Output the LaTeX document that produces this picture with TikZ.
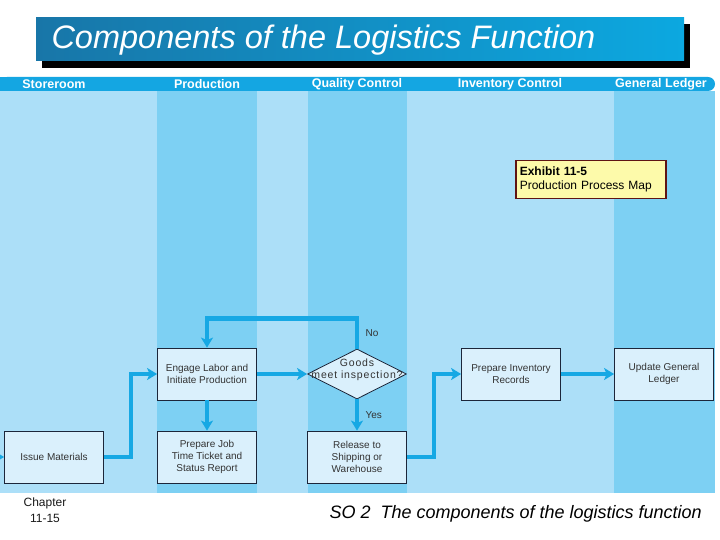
\documentclass[tikz,border=0pt]{standalone}
\usepackage{fontspec}
\setmainfont{Liberation Sans}
\newfontfamily\widesans{Liberation Sans}[LetterSpace=8]
\usetikzlibrary{shapes.geometric,arrows.meta,positioning}
\definecolor{lanelight}{RGB}{172,223,248}
\definecolor{lanedark}{RGB}{125,208,243}
\definecolor{headblue}{RGB}{20,166,226}
\definecolor{flowblue}{RGB}{22,168,228}
\definecolor{boxfill}{RGB}{218,240,252}
\definecolor{boxline}{RGB}{28,38,58}
\definecolor{notefill}{RGB}{253,250,170}
\definecolor{noteline}{RGB}{95,20,20}
\definecolor{titleleft}{RGB}{24,118,168}
\definecolor{titleright}{RGB}{12,168,224}

\begin{document}
\begin{tikzpicture}[x=1pt,y=-1pt,>={Stealth[length=10pt,width=12pt,inset=2.5pt]},node distance=150pt,
                    procbox/.style={rectangle,draw=boxline,line width=0.8pt,fill=boxfill,minimum width=99pt,minimum height=52pt,align=center,text=black!80,font=\fontsize{10}{12}\selectfont},
                    decision/.style={diamond,draw=boxline,line width=0.8pt,fill=boxfill,minimum width=99pt,minimum height=50pt,inner sep=0pt},
                    flow/.style={draw=flowblue,line width=4.5pt},
                    lanehead/.style={text=white,font=\fontsize{12.5}{14}\selectfont\bfseries},
                    flowlabel/.style={text=black!80,font=\fontsize{10}{12}\selectfont}]

                        \useasboundingbox (0,0) rectangle (720,540);

                        \fill[black] (42,24) rectangle (690,68);
                        \shade[left color=titleleft,right color=titleright] (36,18) rectangle (684,61);
                        \node[anchor=west,text=white,font=\fontsize{32.5}{34}\selectfont\itshape] (title) at (48,40) {Components of the Logistics Function};

                        \fill[lanelight] (0,91) rectangle (715,493);
                        \fill[lanedark] (157,91) rectangle (257,493);
                        \fill[lanedark] (308,91) rectangle (407,493);
                        \fill[lanedark] (614,91) rectangle (715,493);
                        \fill[headblue,rounded corners=7pt] (0,77) rectangle (715,91);
                        \fill[headblue] (0,77) rectangle (650,91);

                        \node[lanehead] (h1) at (54,84) {Storeroom};
                        \node[lanehead] (h2) at (207,84) {Production};
                        \node[lanehead] (h3) at (357,84) {Quality Control};
                        \node[lanehead] (h4) at (510,84) {Inventory Control};
                        \node[lanehead] (h5) at (661,84) {General Ledger};

                        \node[rectangle,draw=noteline,line width=1.5pt,fill=notefill,anchor=north west,minimum width=150pt,minimum height=38pt,text width=142pt,inner sep=3pt,align=left,font=\fontsize{12}{14}\selectfont] (ex) at (515,160) {\textbf{Exhibit 11-5}\\Production Process Map};

                        \node[procbox] (1) at (54,457) {Issue Materials};
                        \node[procbox] (2) at (207,374) {Engage Labor and\\Initiate Production};
                        \node[decision,label={[flowlabel,font=\fontsize{10.5}{12}\widesans,align=center,yshift=4pt]center:Goods\\meet inspection?}] (3) [right of = 2] {};
                        \node[procbox] (4) [right of = 3, node distance=154pt] {Prepare Inventory\\Records};
                        \node[procbox] (5) [right of = 4, node distance=153pt] {Update General\\Ledger};
                        \node[procbox] (6) [below of = 2, node distance=83pt] {Prepare Job\\Time Ticket and\\Status Report};
                        \node[procbox] (7) [below of = 3, node distance=83pt] {Release to\\Shipping or\\Warehouse};
                        \coordinate (in) at (0,457);

                        \draw[flow,->] (in) to (1);
                        \draw[flow,->] (1.east) -- +(27,0) |- (2.west);
                        \draw[flow,->] (2) to (3);
                        \draw[flow,->] (2) to (6);
                        \draw[flow,->] (3.north) -- node[flowlabel,right=3pt] {No} +(0,-30) -| (2.north);
                        \draw[flow,->] (3.south) to node[flowlabel,right=3pt] {Yes} (7);
                        \draw[flow,->] (7.east) -- +(27,0) |- (4.west);
                        \draw[flow,->] (4) to (5);

                        \node[align=center,text=black!90,font=\fontsize{12}{16}\selectfont] (chap) at (45,510) {Chapter\\11-15};
                        \node[anchor=west,font=\fontsize{18}{20}\selectfont\itshape] (so) at (326,514) {SO 2\ \ The components of the logistics function};

                        ;
                    \end{tikzpicture}
\end{document}
